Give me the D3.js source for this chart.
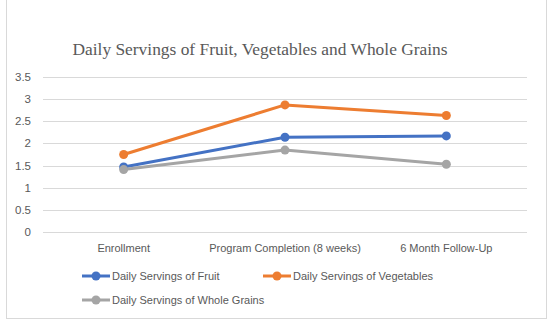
<!DOCTYPE html>
<html>
<head>
<meta charset="utf-8">
<script src="https://cdn.jsdelivr.net/npm/d3@7"></script>
<style>
  body { margin: 0; background: #fff; }
  svg { display: block; }
</style>
</head>
<body>
<div id="chart"></div>
<script>
const categories = ["Enrollment", "Program Completion (8 weeks)", "6 Month Follow-Up"]
const fruit = [1.47, 2.14, 2.17]
const vegetables = [1.75, 2.87, 2.63]
const grains = [1.41, 1.85, 1.53]
const yTicks = [0, 0.5, 1, 1.5, 2, 2.5, 3, 3.5]

const series = [
  { name: "Daily Servings of Fruit", values: fruit, color: "#4472C4" },
  { name: "Daily Servings of Vegetables", values: vegetables, color: "#ED7D31" },
  { name: "Daily Servings of Whole Grains", values: grains, color: "#A5A5A5" }
]

const width = 550, height = 325
const margin = { left: 43, right: 23, top: 77, bottom: 93 }
const labelFont = "Liberation Sans, sans-serif"

let svg = d3.select("#chart")
  .append("svg")
  .attr("width", width)
  .attr("height", height)

// chart frame
svg.append("rect")
  .attr("x", 6.5).attr("y", -1)
  .attr("width", 540).attr("height", 319.5)
  .attr("fill", "#fff")
  .attr("stroke", "#D9D9D9")

let x = d3.scaleBand()
  .domain(categories)
  .range([margin.left, width - margin.right])

let y = d3.scaleLinear()
  .domain([0, 3.5])
  .range([height - margin.bottom, margin.top])

// gridlines
svg.append("g")
  .selectAll("line")
  .data(yTicks)
  .join("line")
  .attr("x1", margin.left).attr("x2", width - margin.right)
  .attr("y1", d => Math.round(y(d)) + 0.5)
  .attr("y2", d => Math.round(y(d)) + 0.5)
  .attr("stroke", "#D9D9D9")
  .attr("stroke-width", 1)

// y labels
svg.append("g")
  .selectAll("text")
  .data(yTicks)
  .join("text")
  .attr("x", 31)
  .attr("y", d => y(d) + 4)
  .attr("text-anchor", "end")
  .attr("font-family", labelFont)
  .attr("font-size", 11.5)
  .attr("fill", "#595959")
  .text(d => d)

// x labels
svg.append("g")
  .selectAll("text")
  .data(categories)
  .join("text")
  .attr("x", d => x(d) + x.bandwidth() / 2)
  .attr("y", 252)
  .attr("text-anchor", "middle")
  .attr("font-family", labelFont)
  .attr("font-size", 11)
  .attr("fill", "#595959")
  .text(d => d)

// title
svg.append("text")
  .attr("x", 260)
  .attr("y", 55)
  .attr("text-anchor", "middle")
  .attr("font-family", "Liberation Serif, serif")
  .attr("font-size", 17.4)
  .attr("fill", "#595959")
  .text("Daily Servings of Fruit, Vegetables and Whole Grains")

let line = d3.line()
  .x((d, i) => x(categories[i]) + x.bandwidth() / 2)
  .y(d => y(d))

let lines = svg.append("g")
series.forEach(s => {
  lines.append("path")
    .datum(s.values)
    .attr("d", line)
    .attr("fill", "none")
    .attr("stroke", s.color)
    .attr("stroke-width", 3)
    .attr("stroke-linejoin", "round")
  lines.append("g")
    .selectAll("circle")
    .data(s.values)
    .join("circle")
    .attr("cx", (d, i) => x(categories[i]) + x.bandwidth() / 2)
    .attr("cy", d => y(d))
    .attr("r", 4.5)
    .attr("fill", s.color)
})

// legend
const legendPos = [[82, 276], [263, 276], [82, 300]]
let legend = svg.append("g")
series.forEach((s, i) => {
  let [lx, ly] = legendPos[i]
  let item = legend.append("g").attr("transform", `translate(${lx},${ly})`)
  item.append("line")
    .attr("x1", 0).attr("x2", 28)
    .attr("y1", 0).attr("y2", 0)
    .attr("stroke", s.color)
    .attr("stroke-width", 3)
  item.append("circle")
    .attr("cx", 14).attr("cy", 0).attr("r", 4.5)
    .attr("fill", s.color)
  item.append("text")
    .attr("x", 30)
    .attr("y", 4)
    .attr("font-family", labelFont)
    .attr("font-size", 11)
    .attr("fill", "#595959")
    .text(s.name)
})
</script>
</body>
</html>
